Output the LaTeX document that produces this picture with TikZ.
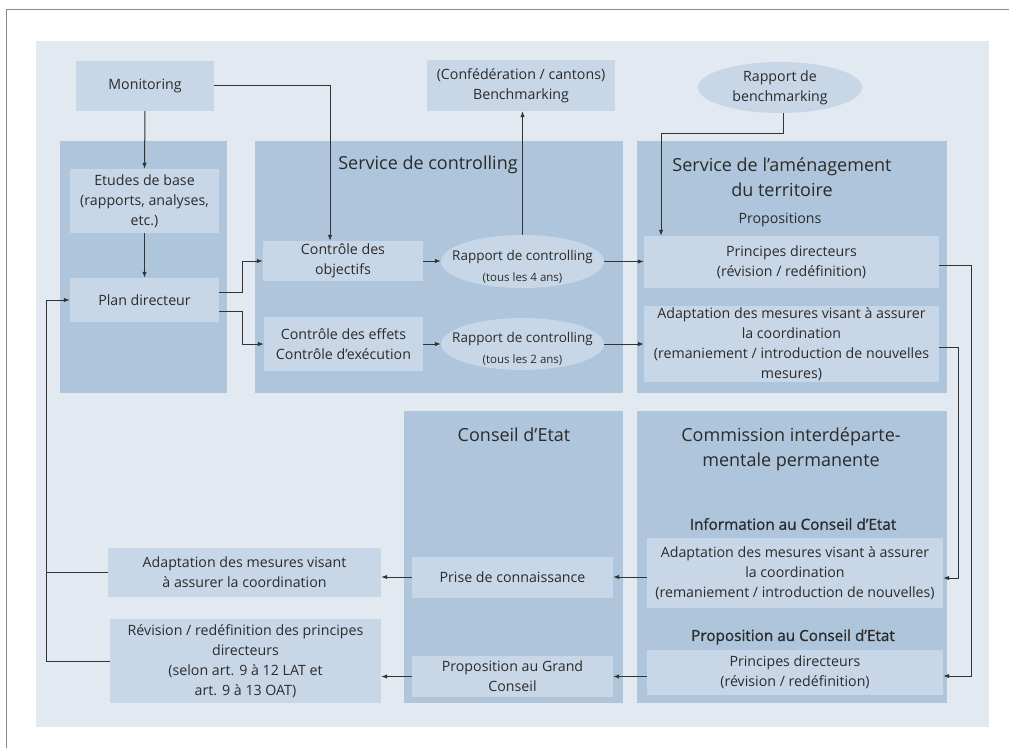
\documentclass[tikz,border=0pt]{standalone}
\usepackage{fontspec}
\setmainfont{Open Sans}
\newfontfamily\semibold[FakeBold=0.9]{Open Sans}
\usetikzlibrary{shapes.geometric,arrows.meta,calc}
\definecolor{bgc}{HTML}{E2E9F0}
\definecolor{panelc}{HTML}{AFC5DB}
\definecolor{boxc}{HTML}{C8D7E8}
\definecolor{txt}{HTML}{2B2B2B}
\definecolor{linec}{HTML}{333333}
\definecolor{framec}{HTML}{8A8A8A}
\begin{document}
\begin{tikzpicture}[x=1bp,y=-1bp,
  box/.style={fill=boxc, inner sep=0pt, align=center, text=txt, font=\fontsize{14.2bp}{20bp}\selectfont},
  ell/.style={ellipse, fill=boxc, inner sep=0pt},
  elltext/.style={align=center, text=txt, inner sep=0pt, font=\fontsize{13.5bp}{21bp}\selectfont},
  ttl/.style={align=center, text=txt, inner sep=0pt, font=\fontsize{18bp}{25bp}\selectfont},
  sub/.style={align=center, text=txt, inner sep=0pt, font=\semibold\fontsize{15.3bp}{20bp}\selectfont},
  conn/.style={draw=linec, line width=1bp},
  arr/.style={conn, -{Latex[length=6bp,width=4.5bp]}},
]
\useasboundingbox (0,0) rectangle (1009,748);
\fill[white] (0,0) rectangle (1009,748);
\draw[framec, line width=1bp] (6.5,748) -- (6.5,9.5) -- (1009,9.5);
\fill[bgc] (36,41) rectangle (989,727);
% panels
\fill[panelc] (60,141) rectangle (227,393);
\fill[panelc] (255,141) rectangle (623,393);
\fill[panelc] (637,141) rectangle (947,393);
\fill[panelc] (404,411) rectangle (623,703);
\fill[panelc] (637,411) rectangle (947,703);
% titles
\node[ttl] (t2) at (428,165) {Service de controlling};
\node[ttl] (t3) at (782,177.5) {Service de l’aménagement\\du territoire};
\node[box, fill=none] (t3b) at (780,220) {Propositions};
\node[ttl] (t4) at (514,435) {Conseil d’Etat};
\node[ttl] (t5) at (791,449) {Commission interdéparte-\\mentale permanente};
\node[sub] (s1) at (793,524) {Information au Conseil d’Etat};
\node[sub] (s2) at (793,637) {Proposition au Conseil d’Etat};
% boxes
\node[box, minimum width=138bp, minimum height=50bp] (mon) at (145,86) {Monitoring};
\node[box, minimum width=188bp, minimum height=51bp] (bench) at (521,85.5) {(Confédération / cantons)\\Benchmarking};
\node[ell, minimum width=164bp, minimum height=51bp] (rbench) at (780,87.5) {};
\node[elltext, font=\fontsize{14.2bp}{20bp}\selectfont] (rbencht) at (rbench.center) {Rapport de\\benchmarking};
\node[box, minimum width=149bp, minimum height=64bp] (etudes) at (144.5,201) {Etudes de base\\(rapports, analyses,\\etc.)};
\node[box, minimum width=149bp, minimum height=44bp] (plan) at (144.5,300) {Plan directeur};
\node[box, minimum width=160bp, minimum height=40bp] (cobj) at (343,261) {Contrôle des\\objectifs};
\node[ell, minimum width=163bp, minimum height=53bp] (rc4) at (522.5,261.5) {};
\node[elltext] (rc4t) at ([yshift=-5bp]rc4.center) {Rapport de controlling\\{\fontsize{11.5bp}{21bp}\selectfont (tous les 4 ans)}};
\node[box, minimum width=159bp, minimum height=54bp] (ceff) at (343.5,344) {Contrôle des effets\\Contrôle d’exécution};
\node[ell, minimum width=163bp, minimum height=52bp] (rc2) at (522.5,344) {};
\node[elltext] (rc2t) at ([yshift=-5bp]rc2.center) {Rapport de controlling\\{\fontsize{11.5bp}{21bp}\selectfont (tous les 2 ans)}};
\node[box, minimum width=295bp, minimum height=52bp] (pd1) at (791.5,262) {Principes directeurs\\(révision / redéfinition)};
\node[box, minimum width=295bp, minimum height=76bp] (adapt1) at (791.5,344) {Adaptation des mesures visant à assurer\\la coordination\\(remaniement / introduction de nouvelles\\mesures)};
\node[box, minimum width=296bp, minimum height=70bp] (adapt2) at (795,573) {Adaptation des mesures visant à assurer\\la coordination\\(remaniement / introduction de nouvelles)};
\node[box, minimum width=296bp, minimum height=45bp] (pd2) at (795,672) {Principes directeurs\\(révision / redéfinition)};
\node[box, minimum width=201bp, minimum height=41bp] (prise) at (512.5,577) {Prise de connaissance};
\node[box, minimum width=201bp, minimum height=41bp] (propgc) at (512.5,676.5) {Proposition au Grand\\Conseil};
\node[box, minimum width=273bp, minimum height=49bp] (adapt3) at (244.5,572.5) {Adaptation des mesures visant\\à assurer la coordination};
\node[box, minimum width=271bp, minimum height=84bp] (revis) at (245.5,661) {Révision / redéfinition des principes\\directeurs\\(selon art. 9 à 12 LAT et\\art. 9 à 13 OAT)};
\coordinate (ret) at (46,0);
% connectors
\draw[arr] (mon.south) -- (etudes.north);
\draw[arr] (etudes.south) -- (plan.north);
\draw[arr] (mon.east) -| ([xshift=-13bp]cobj.north);
\draw[arr] ([yshift=8bp]plan.east) -- ++(23,0) |- (cobj.west);
\draw[arr] ([yshift=-11bp]plan.east) -- ++(23,0) |- (ceff.west);
\draw[arr] (cobj.east) -- (cobj.east -| rc4.west);
\draw[arr] (ceff.east) -- (ceff.east -| rc2.west);
\draw[arr] (rc4.north) -- (rc4.north |- bench.south);
\draw[arr] ([xshift=3bp]rbench.south) -- ++(0,20) -| ([xshift=-130.5bp]pd1.north);
\draw[arr] (rc4.east) -- (rc4.east -| pd1.west);
\draw[arr] (rc2.east) -- (rc2.east -| adapt1.west);
\draw[arr] ([yshift=-3bp]pd1.east) -- ++(32,0) |- ([yshift=-4bp]pd2.east);
\draw[arr] ([yshift=-3bp]adapt1.east) -- ++(19,0) |- ([yshift=-5bp]adapt2.east);
\draw[arr] (prise.east -| adapt2.west) -- (prise.east);
\draw[arr] (propgc.east -| pd2.west) -- (propgc.east);
\draw[arr] (prise.west) -- (prise.west -| adapt3.east);
\draw[arr] (propgc.west) -- (propgc.west -| revis.east);
\draw[conn] (adapt3.west) -- (adapt3.west -| ret);
\draw[arr] (revis.west) -- (revis.west -| ret) |- (plan.west);
\end{tikzpicture}
\end{document}
